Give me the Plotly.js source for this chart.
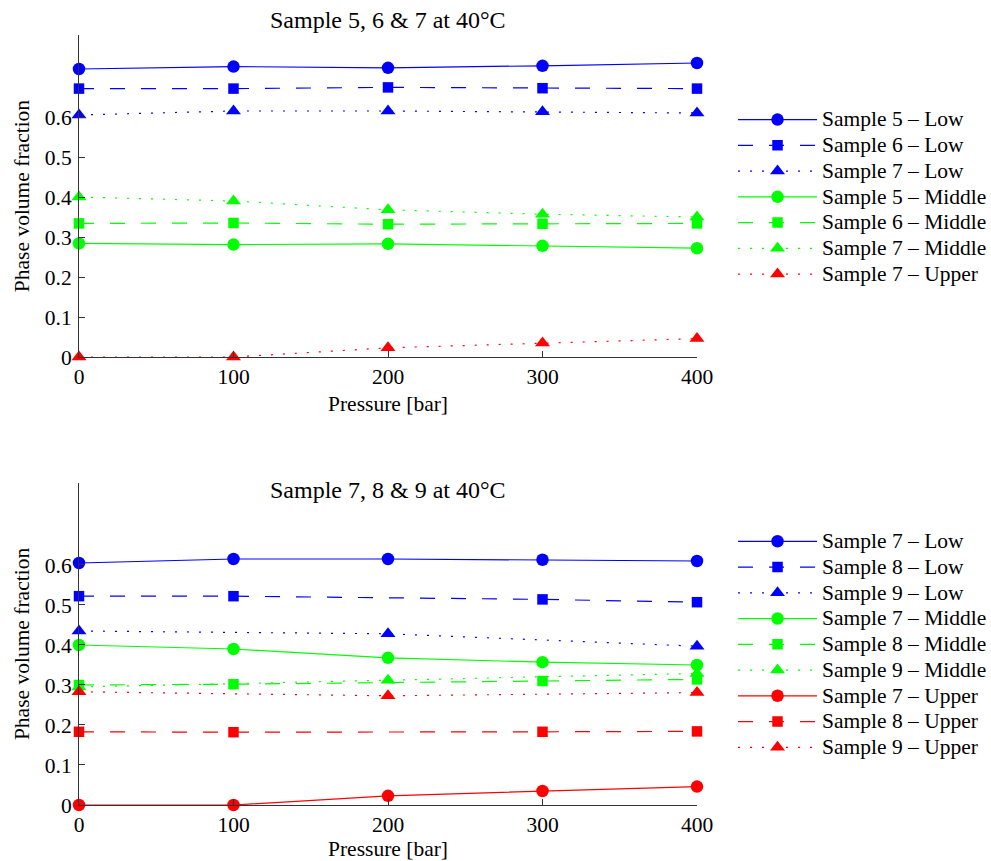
<!DOCTYPE html>
<html>
<head>
<meta charset="utf-8">
<script src="https://cdn.plot.ly/plotly-3.0.1.min.js"></script>
<style>html,body{margin:0;padding:0;background:#fff;}#chart{width:991px;height:861px;}</style>
</head>
<body>
<div id="chart"></div>
<script>
// ---- data ----
var pressure   = [0, 100, 200, 300, 400];
var pressureS8 = [0, 100, 300, 400];
var pressureS9 = [0, 200, 400];

// top chart
var s5Low    = [0.720, 0.726, 0.723, 0.728, 0.735];
var s6Low    = [0.671, 0.671, 0.674, 0.672, 0.671];
var s7Low    = [0.605, 0.615, 0.615, 0.613, 0.610];
var s5Middle = [0.284, 0.281, 0.283, 0.278, 0.272];
var s6Middle = [0.334, 0.335, 0.332, 0.333, 0.334];
var s7Middle = [0.400, 0.390, 0.368, 0.357, 0.350];
var s7Upper  = [0.000, 0.000, 0.023, 0.035, 0.046];

// bottom chart
var s8Low    = [0.522, 0.522, 0.514, 0.507];
var s9Low    = [0.435, 0.428, 0.397];
var s8Middle = [0.300, 0.302, 0.310, 0.314];
var s9Middle = [0.295, 0.312, 0.329];
var s8Upper  = [0.183, 0.182, 0.183, 0.184];
var s9Upper  = [0.283, 0.273, 0.281];

var topTitle = 'Sample 5, 6 &amp; 7 at 40°C';
var bottomTitle = 'Sample 7, 8 &amp; 9 at 40°C';
var yTickVals = [0, 0.1, 0.2, 0.3, 0.4, 0.5, 0.6];
var xTickVals = [0, 100, 200, 300, 400];

// ---- styles ----
var BLUE = '#0000ff', GREEN = '#00ff00', RED = '#ff0000';
var DASH = '15px,16px', DOT = '2px,10px';
var MK = {circle: 12.5, square: 10.5, 'triangle-up': 13};
var TXT = 21.5;

function tr(name, x, y, color, dash, symbol, xa, ya, leg) {
  return {
    type: 'scatter', mode: 'lines+markers',
    name: '<span style="font-size:' + TXT + 'px">' + name + '</span>',
    x: x, y: y,
    xaxis: xa, yaxis: ya, legend: leg, cliponaxis: false,
    line: {color: color, width: 1.2, dash: dash},
    marker: {color: color, symbol: symbol, size: MK[symbol], line: {width: 0}}
  };
}

var data = [
  tr('Sample 5 – Low',    pressure, s5Low,    BLUE,  'solid', 'circle',      'x',  'y',  'legend'),
  tr('Sample 6 – Low',    pressure, s6Low,    BLUE,  DASH,    'square',      'x',  'y',  'legend'),
  tr('Sample 7 – Low',    pressure, s7Low,    BLUE,  DOT,     'triangle-up', 'x',  'y',  'legend'),
  tr('Sample 5 – Middle', pressure, s5Middle, GREEN, 'solid', 'circle',      'x',  'y',  'legend'),
  tr('Sample 6 – Middle', pressure, s6Middle, GREEN, DASH,    'square',      'x',  'y',  'legend'),
  tr('Sample 7 – Middle', pressure, s7Middle, GREEN, DOT,     'triangle-up', 'x',  'y',  'legend'),
  tr('Sample 7 – Upper',  pressure, s7Upper,  RED,   DOT,     'triangle-up', 'x',  'y',  'legend'),

  tr('Sample 7 – Low',    pressure,   s7Low,    BLUE,  'solid', 'circle',      'x2', 'y2', 'legend2'),
  tr('Sample 8 – Low',    pressureS8, s8Low,    BLUE,  DASH,    'square',      'x2', 'y2', 'legend2'),
  tr('Sample 9 – Low',    pressureS9, s9Low,    BLUE,  DOT,     'triangle-up', 'x2', 'y2', 'legend2'),
  tr('Sample 7 – Middle', pressure,   s7Middle, GREEN, 'solid', 'circle',      'x2', 'y2', 'legend2'),
  tr('Sample 8 – Middle', pressureS8, s8Middle, GREEN, DASH,    'square',      'x2', 'y2', 'legend2'),
  tr('Sample 9 – Middle', pressureS9, s9Middle, GREEN, DOT,     'triangle-up', 'x2', 'y2', 'legend2'),
  tr('Sample 7 – Upper',  pressure,   s7Upper,  RED,   'solid', 'circle',      'x2', 'y2', 'legend2'),
  tr('Sample 8 – Upper',  pressureS8, s8Upper,  RED,   DASH,    'square',      'x2', 'y2', 'legend2'),
  tr('Sample 9 – Upper',  pressureS9, s9Upper,  RED,   DOT,     'triangle-up', 'x2', 'y2', 'legend2')
];

var FONT = 'Liberation Serif, Times New Roman, serif';
var AXC = '#333333';

function xax(anchor) {
  return {
    anchor: anchor, domain: [0, 1], range: [0, 400], automargin: false,
    tickvals: xTickVals, ticks: 'inside', ticklen: 6, tickcolor: AXC, tickwidth: 1,
    showline: true, linecolor: AXC, linewidth: 1, showgrid: false, zeroline: false,
    tickfont: {family: FONT, size: TXT, color: '#000'},
    title: {text: 'Pressure [bar]', font: {family: FONT, size: TXT, color: '#000'}, standoff: 8}
  };
}
function yax(anchor, domain) {
  return {
    anchor: anchor, domain: domain, range: [0, 0.805], automargin: false,
    tickvals: yTickVals, ticks: 'inside', ticklen: 6, tickcolor: AXC, tickwidth: 1,
    showline: true, linecolor: AXC, linewidth: 1, showgrid: false, zeroline: false,
    ticklabelstandoff: 2,
    tickfont: {family: FONT, size: TXT, color: '#000'},
    title: {text: 'Phase volume fraction', font: {family: FONT, size: TXT, color: '#000'}, standoff: 9}
  };
}

var legendBase = {
  xref: 'paper', yref: 'paper', xanchor: 'left', yanchor: 'top',
  font: {family: FONT, size: 17.5, color: '#000'}, bgcolor: 'rgba(0,0,0,0)',
  borderwidth: 0, itemwidth: 79, tracegroupgap: 0, itemclick: false
};

var layout = {
  width: 991, height: 861,
  margin: {l: 79, r: 294, t: 35, b: 56, autoexpand: false},
  paper_bgcolor: '#fff', plot_bgcolor: '#fff',
  font: {family: FONT, size: TXT, color: '#000'},
  xaxis: xax('y'),
  yaxis: yax('x', [0.5818, 1]),
  xaxis2: xax('y2'),
  yaxis2: yax('x2', [0, 0.4182]),
  legend: Object.assign({}, legendBase, {x: 1.0583, y: 0.9134}),
  legend2: Object.assign({}, legendBase, {x: 1.0583, y: 0.3657}),
  annotations: [
    {text: topTitle, xref: 'paper', yref: 'paper', x: 0.5, y: 1.0195, xanchor: 'center', yanchor: 'middle',
     showarrow: false, font: {family: FONT, size: 24, color: '#000'}},
    {text: bottomTitle, xref: 'paper', yref: 'paper', x: 0.5, y: 0.409, xanchor: 'center', yanchor: 'middle',
     showarrow: false, font: {family: FONT, size: 24, color: '#000'}}
  ],
  showlegend: true
};

Plotly.newPlot('chart', data, layout, {staticPlot: true, displayModeBar: false});
</script>
</body>
</html>
